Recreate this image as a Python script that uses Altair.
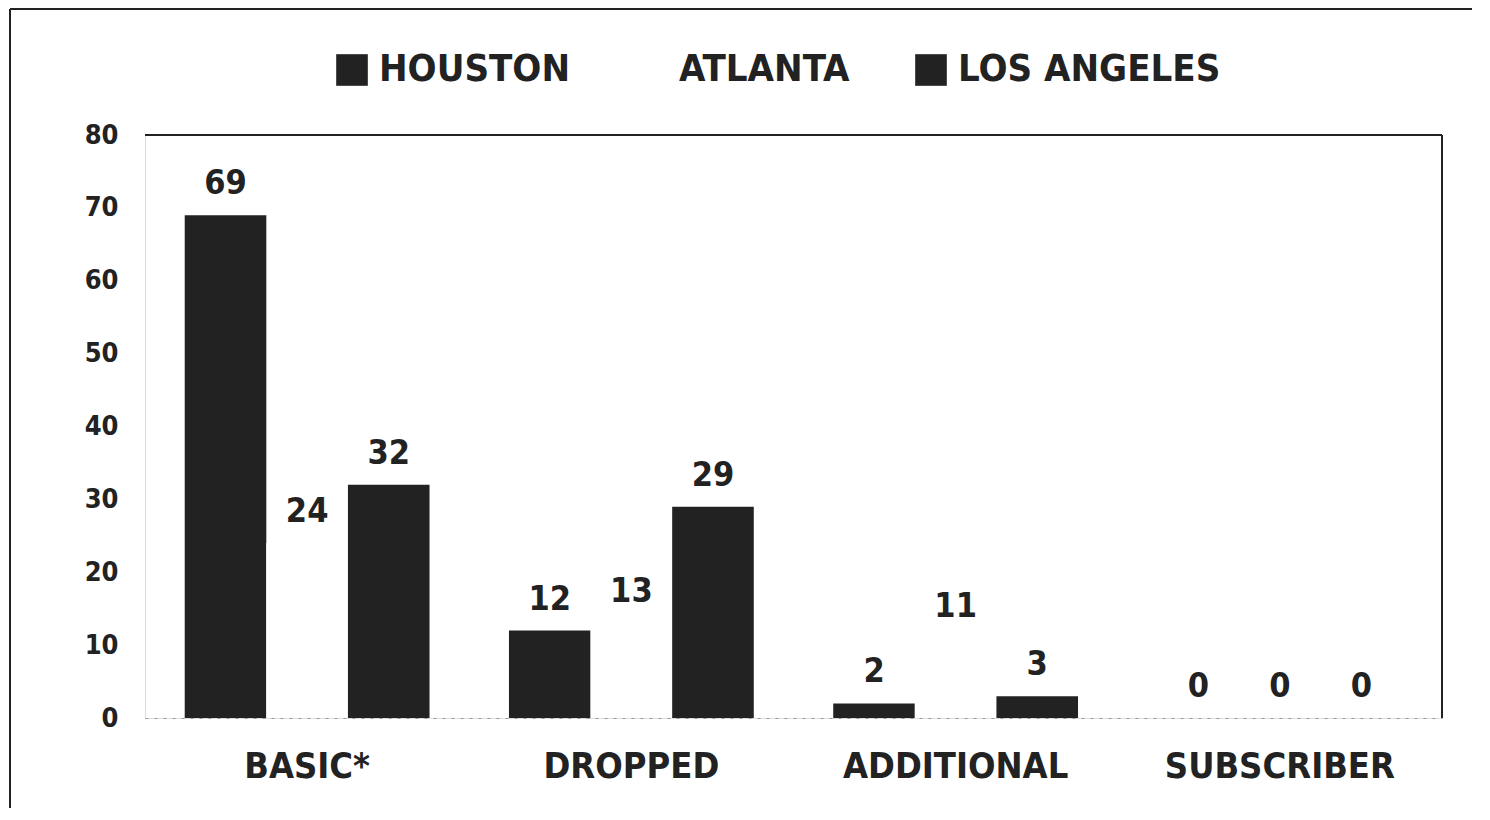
import altair as alt
import pandas as pd

categories = ["BASIC*", "DROPPED", "ADDITIONAL", "SUBSCRIBER"]
series = ["HOUSTON", "ATLANTA", "LOS ANGELES"]
houston = [69, 12, 2, 0]
atlanta = [24, 13, 11, 0]
los_angeles = [32, 29, 3, 0]
y_ticks = [0, 10, 20, 30, 40, 50, 60, 70, 80]

rows = []
for i, c in enumerate(categories):
    for s, vals in zip(series, [houston, atlanta, los_angeles]):
        rows.append({"category": c, "city": s, "value": vals[i]})
df = pd.DataFrame(rows)

FONT = "Liberation Sans Narrow, DejaVu Sans Condensed, Arial Narrow, sans-serif"
DARK = "#222222"
W, H = 1297, 583

color_scale = alt.Scale(domain=series, range=[DARK, "#ffffff", DARK])

x_enc = alt.X("category:N", sort=categories,
              scale=alt.Scale(paddingInner=0.245, paddingOuter=0.1225),
              axis=alt.Axis(title=None, labelAngle=0, labelFont=FONT, labelFontSize=36,
                            labelFontWeight="bold", labelColor=DARK, labelPadding=31,
                            labelLimit=600,
                            ticks=False, domain=True, domainColor="#999999",
                            domainDash=[3, 6], domainWidth=1))
xoff = alt.XOffset("city:N", sort=series, scale=alt.Scale(paddingInner=0, paddingOuter=0))
y_enc = alt.Y("value:Q", scale=alt.Scale(domain=[0, 80], nice=False),
              axis=alt.Axis(title=None, values=y_ticks, labelFont=FONT, labelFontSize=27,
                            labelFontWeight="bold", labelColor=DARK, labelPadding=27,
                            ticks=False, domain=False, grid=False))

bars = alt.Chart(df).mark_bar().encode(
    x=x_enc, xOffset=xoff, y=y_enc,
    color=alt.Color("city:N", sort=series, scale=color_scale,
                    legend=alt.Legend(title=None, orient="none", direction="horizontal",
                                      legendX=188, legendY=-84, symbolType="square",
                                      symbolSize=1000, symbolStrokeWidth=0,
                                      labelFont=FONT, labelFontSize=38, labelFontWeight="bold",
                                      labelColor=DARK, labelOffset=8, columnPadding=62,
                                      labelLimit=400)),
)

labels = alt.Chart(df).mark_text(baseline="bottom", dy=-14, font=FONT, fontSize=34,
                                 fontWeight="bold", color=DARK).encode(
    x=x_enc, xOffset=xoff, y=y_enc, text="value:Q")

frame_top = alt.Chart(df).mark_rule(color=DARK, strokeWidth=2).encode(
    x=alt.value(0), x2=alt.value(W), y=alt.value(0))
frame_right = alt.Chart(df).mark_rule(color=DARK, strokeWidth=2).encode(
    x=alt.value(W), y=alt.value(0), y2=alt.value(H))
outer_top = alt.Chart(df).mark_rule(color=DARK, strokeWidth=2).encode(
    x=alt.value(-135), x2=alt.value(W + 40), y=alt.value(-126))
outer_left = alt.Chart(df).mark_rule(color=DARK, strokeWidth=2).encode(
    x=alt.value(-135), y=alt.value(-126), y2=alt.value(H + 100))

chart = alt.layer(bars, labels, frame_top, frame_right, outer_top, outer_left).properties(
    width=W, height=H,
    autosize=alt.AutoSizeParams(type="none"),
    padding={"left": 137, "top": 127, "right": 30, "bottom": 90},
).configure_view(stroke="transparent", strokeWidth=0).configure(background="white")

chart.save("out.html", embed_options={"renderer": "svg", "actions": False})
